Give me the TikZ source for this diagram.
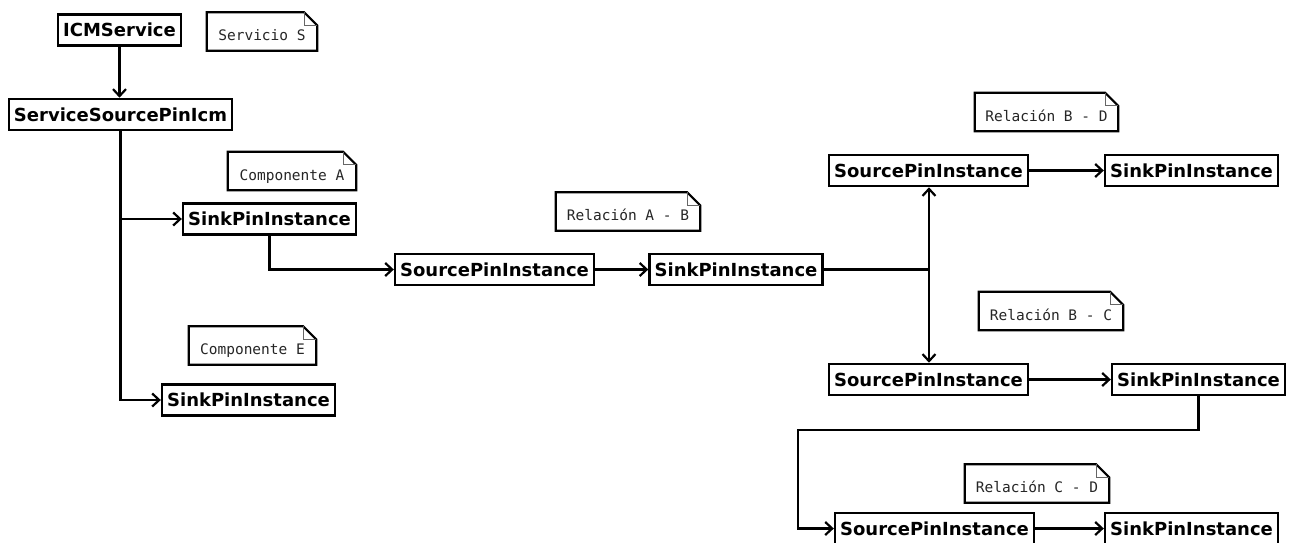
\documentclass[tikz,border=0pt]{standalone}
\usepackage{fontspec}
\usetikzlibrary{arrows.meta}
\newfontfamily\pinfont{DejaVu Sans}
\newfontfamily\memofont{DejaVu Sans Mono}

\tikzset{
  pin/.style={draw, line width=2.6pt, font=\pinfont\bfseries\fontsize{18}{20}\selectfont,
    minimum height=31pt, inner xsep=5pt, inner ysep=2pt},
  memo/.style={font=\memofont\fontsize{14.5}{16}\selectfont, text=black!85,
    text height=20pt, text depth=2pt, inner ysep=8pt, inner xsep=9pt},
  memoline/.style={line width=2.2pt},
  memofold/.style={line width=1.2pt, black!60},
  link/.style={line width=2.2pt, -{Straight Barb[length=7pt,width=13pt,line width=2.2pt]}},
  wire/.style={line width=2.2pt}
}

\begin{document}
\begin{tikzpicture}[x=1pt, y=-1pt]
\useasboundingbox[fill=white] (0,0) rectangle (1289,542);

% componentes
\node[pin] (icm)   at (119.5,30)   {ICMService};
\node[pin] (sspi)  at (120.5,114.5) {ServiceSourcePinIcm};
\node[pin] (sinkA) at (269.5,219)  {SinkPinInstance};
\node[pin] (sinkE) at (248.5,400)  {SinkPinInstance};

% relaciones
\node[pin] (srcAB)  at (494.5,269.5)  {SourcePinInstance};
\node[pin] (sinkAB) at (736,269.5)    {SinkPinInstance};
\node[pin] (srcBD)  at (928.5,170.5)  {SourcePinInstance};
\node[pin] (sinkBD) at (1191.5,170.5) {SinkPinInstance};
\node[pin] (srcBC)  at (928.5,379.5)  {SourcePinInstance};
\node[pin] (sinkBC) at (1198.5,379.5) {SinkPinInstance};
\node[pin] (srcCD)  at (934.5,528.5)  {SourcePinInstance};
\node[pin] (sinkCD) at (1191.5,528.5) {SinkPinInstance};

% notas
\node[memo, minimum width=110pt] (nS)  at (262,31.5)   {Servicio S};
\node[memo, minimum width=128pt] (nA)  at (292,171)    {Componente A};
\node[memo, minimum width=127pt] (nE)  at (252.5,345.5) {Componente E};
\node[memo, minimum width=144pt] (nAB) at (628,211.5)  {Relación A - B};
\node[memo, minimum width=143pt] (nBD) at (1046.5,112) {Relación B - D};
\node[memo, minimum width=144pt] (nBC) at (1051,311)   {Relación B - C};
\node[memo, minimum width=144pt] (nCD) at (1037,483.5) {Relación C - D};
\foreach \n in {nS,nA,nE,nAB,nBD,nBC,nCD}{
  \draw[memoline] (\n.north west) -- ([xshift=-13pt]\n.north east)
    -- ([yshift=-13pt]\n.north east) -- (\n.south east) -- (\n.south west) -- cycle;
  \draw[memofold] ([xshift=-13pt]\n.north east) |- ([yshift=-13pt]\n.north east);
}

% conexiones
\coordinate (split) at (929,269.5);
\coordinate (bend) at (798,430);
\draw[link] (icm.south) -- (icm.south |- sspi.north);
\draw[link] (sspi.south) |- (sinkA.west);
\draw[link] (sspi.south) |- (sinkE.west);
\draw[link] (sinkA.south) |- (srcAB.west);
\draw[link] (srcAB) -- (sinkAB);
\draw[wire] (sinkAB.east) -- (split);
\draw[link] (split) -- (split |- srcBD.south);
\draw[link] (split) -- (split |- srcBC.north);
\draw[link] (srcBD) -- (sinkBD);
\draw[link] (srcBC) -- (sinkBC);
\draw[link] (sinkBC.south) |- (bend) |- (srcCD.west);
\draw[link] (srcCD) -- (sinkCD);
\end{tikzpicture}
\end{document}
